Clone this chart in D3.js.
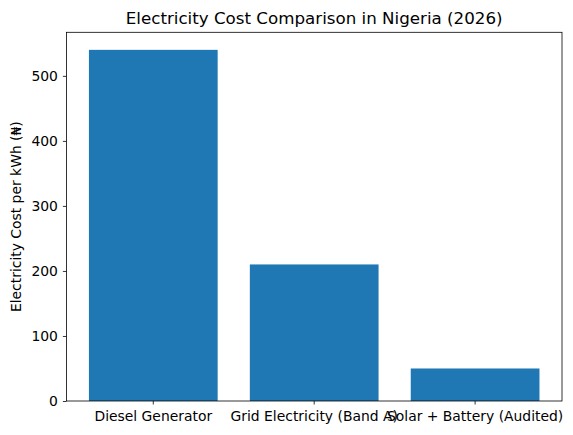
<!DOCTYPE html>
<html>
<head>
<meta charset="utf-8">
<script src="https://cdn.jsdelivr.net/npm/d3@7"></script>
<style>
  body { margin: 0; background: #fff; }
  svg { display: block; font-family: "DejaVu Sans", sans-serif; }
</style>
</head>
<body>
<div id="chart"></div>
<script>
const categories = ["Diesel Generator", "Grid Electricity (Band A)", "Solar + Battery (Audited)"];
const costs = [540, 210, 50];
const yTicks = [0, 100, 200, 300, 400, 500];

const width = 573, height = 435;
const margin = { top: 32.3, right: 11, bottom: 34, left: 66.4 };

const svg = d3.select("#chart").append("svg")
  .attr("width", width)
  .attr("height", height);

const x = d3.scaleBand()
  .domain(categories)
  .range([margin.left, width - margin.right])
  .paddingInner(0.2)
  .paddingOuter(0.14);

const y = d3.scaleLinear()
  .domain([0, d3.max(costs) * 1.05])
  .range([height - margin.bottom, margin.top]);

// bars
svg.selectAll("rect.bar")
  .data(costs)
  .enter()
  .append("rect")
  .attr("class", "bar")
  .attr("x", (d, i) => x(categories[i]))
  .attr("y", d => y(d))
  .attr("width", x.bandwidth())
  .attr("height", d => y(0) - y(d))
  .attr("fill", "#1f77b4");

// axes
const xAxis = svg.append("g")
  .attr("transform", `translate(0,${height - margin.bottom})`)
  .call(d3.axisBottom(x).tickSizeOuter(0).tickSize(3.5).tickPadding(6.5));

const yAxis = svg.append("g")
  .attr("transform", `translate(${margin.left},0)`)
  .call(d3.axisLeft(y).tickValues(yTicks).tickSizeOuter(0).tickSize(3.5).tickPadding(5));

[xAxis, yAxis].forEach(g => {
  g.selectAll("text")
    .attr("fill", "#000")
    .style("font-size", "13.9px")
    .style("font-family", "DejaVu Sans, sans-serif");
  g.selectAll("line").attr("stroke", "#000").attr("stroke-width", 0.8);
  g.select(".domain").remove();
});

// frame
svg.append("rect")
  .attr("x", margin.left)
  .attr("y", margin.top)
  .attr("width", width - margin.right - margin.left)
  .attr("height", height - margin.bottom - margin.top)
  .attr("fill", "none")
  .attr("stroke", "#000")
  .attr("stroke-width", 0.8);

// title
svg.append("text")
  .attr("x", (margin.left + width - margin.right) / 2)
  .attr("y", 24)
  .attr("text-anchor", "middle")
  .style("font-size", "16.7px")
  .attr("fill", "#000")
  .text("Electricity Cost Comparison in Nigeria (2026)");

// y label
svg.append("text")
  .attr("transform", `translate(21,${(margin.top + height - margin.bottom) / 2}) rotate(-90)`)
  .attr("text-anchor", "middle")
  .style("font-size", "13.9px")
  .attr("fill", "#000")
  .text("Electricity Cost per kWh (₦)");
</script>
</body>
</html>
